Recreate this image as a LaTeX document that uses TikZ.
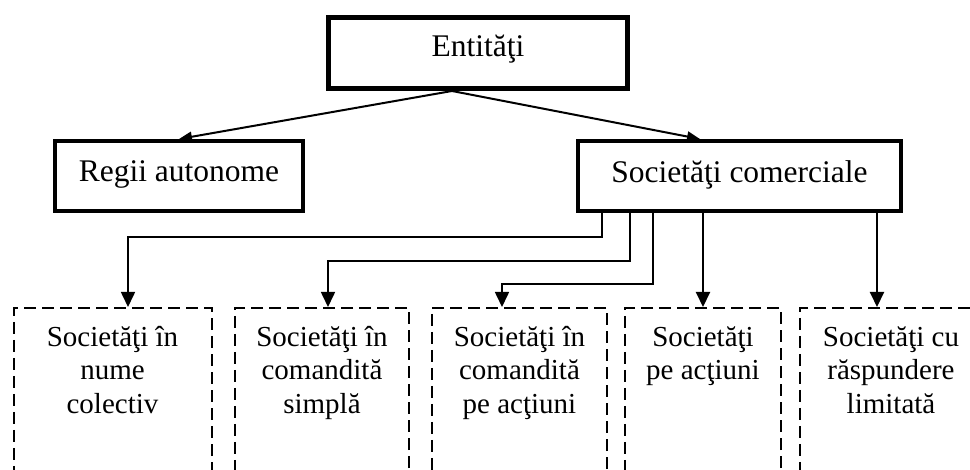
\documentclass[tikz,border=0pt]{standalone}
\usepackage{fontspec}
\setmainfont{Liberation Serif}
\usetikzlibrary{arrows.meta}
\tikzset{
  topbox/.style={draw, rectangle, line width=4pt, minimum height=70pt, inner sep=0pt,
                 font=\fontsize{31.5}{36}\selectfont},
  dbox/.style={draw, rectangle, line width=2pt, dash pattern=on 12pt off 6pt,
               anchor=north, minimum height=220pt, inner sep=0pt},
  btxt/.style={anchor=north, inner sep=0pt, align=center,
               font=\fontsize{29}{33.5}\selectfont},
  toparrow/.style={line width=2pt, -{Triangle[length=13pt,width=10pt]}},
  elbow/.style={line width=1.6pt, -{Triangle[length=15pt,width=14pt]}},
  straight/.style={line width=2pt, -{Triangle[length=15pt,width=14pt]}},
}
\begin{document}
\begin{tikzpicture}[x=1pt,y=-1pt]
\useasboundingbox (0,0) rectangle (970,470);
\clip (0,0) rectangle (970,470);
% top level
\node[topbox, line width=5pt, minimum width=299pt, minimum height=71pt,
      text height=22pt, text depth=14pt] (ent) at (478,53) {Entităţi};
\node[topbox, minimum width=248pt, text height=24pt, text depth=12pt] (reg) at (179,176) {Regii autonome};
\node[topbox, minimum width=323pt, text height=24pt, text depth=10pt] (soc) at (739.5,176) {Societăţi comerciale};
\draw[toparrow] ([xshift=-26pt]ent.south) -- (reg.north);
\draw[toparrow] ([xshift=-26pt]ent.south) -- ([xshift=-39.5pt]soc.north);
% lower boxes
\node[dbox, minimum width=198pt] (b1) at (112.5,307) {};
\node[dbox, minimum width=174pt] (b2) at (322,307) {};
\node[dbox, minimum width=175pt] (b3) at (519.5,307) {};
\node[dbox, minimum width=156pt] (b4) at (703,307) {};
\node[dbox, minimum width=182pt] (b5) at (891,307) {};
\node[btxt] (t1) at ([yshift=-19pt]b1.north) {Societăţi în\\nume\\colectiv};
\node[btxt] (t2) at ([yshift=-19pt]b2.north) {Societăţi în\\comandită\\simplă};
\node[btxt] (t3) at ([yshift=-19pt]b3.north) {Societăţi în\\comandită\\pe acţiuni};
\node[btxt] (t4) at ([yshift=-19pt]b4.north) {Societăţi\\pe acţiuni};
\node[btxt] (t5) at ([yshift=-19pt]b5.north) {Societăţi cu\\răspundere\\limitată};
% connectors
\draw[elbow] ([xshift=-137.5pt]soc.south) -- ++(0,24) -| ([xshift=15.5pt]b1.north);
\draw[elbow] ([xshift=-109.5pt]soc.south) -- ++(0,48) -| ([xshift=6pt]b2.north);
\draw[elbow] ([xshift=-86.5pt]soc.south) -- ++(0,71) -| ([xshift=-17.5pt]b3.north);
\draw[straight] ([xshift=-36.5pt]soc.south) -- (b4.north);
\draw[straight] ([xshift=137.5pt]soc.south) -- ([xshift=-14pt]b5.north);
\end{tikzpicture}
\end{document}
